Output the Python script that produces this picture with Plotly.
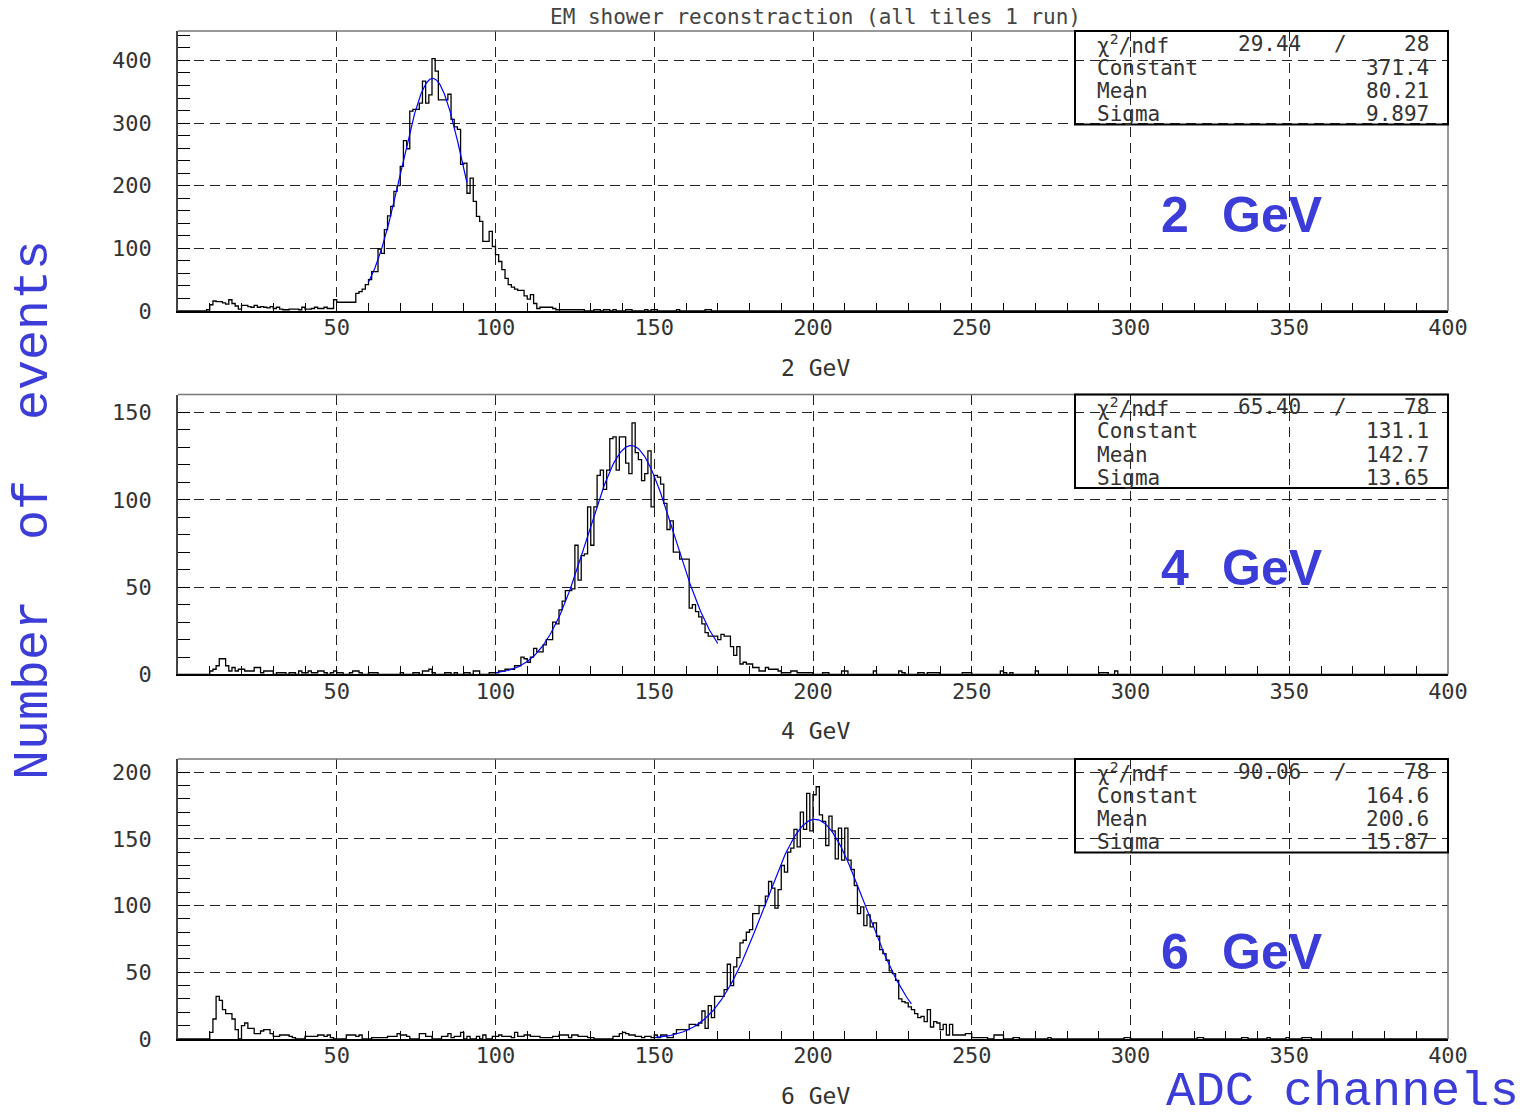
import numpy as np
import plotly.graph_objects as go

# ---------------- data (ADC channel bins of width 1, starting at channel 0) ----------------
counts_2gev = [
    0, 0, 0, 0, 0, 0, 0, 0, 0, 2,
    10, 16, 15, 15, 13, 11, 18, 12, 8, 3,
    9, 9, 7, 6, 9, 6, 7, 6, 5, 7,
    4, 6, 3, 2, 2, 3, 3, 3, 2, 6,
    3, 3, 4, 6, 4, 4, 6, 4, 4, 18,
    14, 14, 14, 14, 14, 14, 28, 31, 35, 42,
    50, 63, 63, 99, 92, 130, 152, 167, 191, 200,
    231, 272, 259, 319, 322, 322, 332, 367, 332, 345,
    403, 383, 337, 337, 337, 346, 306, 294, 290, 234,
    236, 188, 212, 175, 151, 143, 111, 111, 127, 103,
    90, 79, 66, 52, 42, 38, 35, 33, 33, 24,
    19, 26, 12, 4, 6, 6, 6, 6, 4, 2,
    2, 2, 2, 2, 2, 2, 2, 2, 0, 0,
    0, 2, 2, 0, 2, 2, 0, 2, 0, 0,
    0, 2, 2, 0, 0, 0, 0, 2, 0, 2,
    2, 0, 0, 0, 0, 0, 0, 2, 0, 0,
    0, 0, 0, 0, 0, 0, 2, 2, 0, 0,
]

counts_4gev = [
    0, 0, 0, 0, 0, 0, 0, 0, 0, 0,
    2, 3, 5, 9, 9, 5, 2, 4, 2, 3,
    3, 2, 2, 2, 4, 4, 1, 2, 2, 2,
    0, 1, 1, 1, 0, 1, 1, 0, 2, 1,
    1, 2, 1, 1, 2, 2, 1, 0, 1, 2,
    1, 1, 0, 0, 1, 2, 2, 1, 0, 0,
    1, 1, 1, 0, 0, 0, 0, 0, 0, 0,
    1, 0, 0, 0, 1, 1, 0, 2, 2, 3,
    1, 0, 0, 0, 1, 1, 0, 1, 0, 0,
    1, 1, 0, 2, 2, 0, 0, 0, 1, 1,
    1, 2, 2, 3, 3, 3, 5, 5, 10, 9,
    7, 10, 15, 13, 13, 17, 20, 20, 30, 29,
    37, 42, 48, 48, 49, 74, 54, 68, 69, 96,
    74, 96, 114, 117, 106, 117, 135, 136, 117, 136,
    136, 121, 115, 144, 127, 123, 111, 115, 128, 96,
    114, 113, 109, 98, 83, 88, 70, 70, 66, 66,
    66, 38, 40, 36, 33, 29, 24, 22, 22, 22,
    20, 23, 22, 22, 16, 11, 16, 6, 7, 6,
    6, 4, 4, 2, 2, 4, 3, 3, 3, 2,
    1, 1, 1, 2, 2, 1, 1, 1, 1, 1,
    0, 0, 0, 1, 1, 0, 0, 0, 0, 2,
    2, 0, 0, 0, 0, 0, 0, 0, 0, 2,
    0, 0, 0, 0, 0, 0, 0, 2, 1, 0,
    0, 0, 0, 1, 1, 0, 1, 1, 1, 1,
    0, 0, 0, 0, 0, 0, 0, 1, 1, 1,
    0, 0, 0, 0, 0, 0, 0, 0, 0, 2,
    1, 0, 1, 0, 0, 0, 0, 0, 0, 0,
    2, 0, 0, 0, 0, 0, 0, 0, 0, 0,
    0, 0, 0, 0, 0, 0, 0, 0, 0, 0,
    1, 1, 1, 0, 0, 2, 0, 0, 0, 0,
]

counts_6gev = [
    0, 0, 0, 0, 0, 0, 0, 0, 0, 0,
    5, 15, 32, 29, 22, 19, 19, 15, 7, 0,
    10, 12, 8, 8, 4, 4, 6, 7, 7, 4,
    2, 2, 3, 3, 3, 2, 1, 0, 0, 0,
    2, 2, 2, 2, 3, 3, 2, 3, 1, 0,
    0, 0, 0, 3, 3, 3, 2, 3, 0, 0,
    0, 1, 1, 1, 1, 1, 2, 2, 2, 4,
    3, 3, 2, 0, 0, 0, 4, 4, 2, 2,
    0, 0, 0, 2, 2, 4, 1, 2, 2, 5,
    0, 2, 0, 0, 2, 0, 3, 0, 0, 2,
    2, 3, 2, 2, 2, 1, 5, 2, 2, 3,
    3, 2, 2, 2, 1, 1, 1, 1, 2, 2,
    3, 3, 3, 1, 3, 3, 2, 2, 2, 1,
    1, 0, 0, 0, 0, 0, 0, 2, 2, 4,
    5, 4, 3, 3, 2, 2, 1, 2, 2, 1,
    3, 1, 3, 3, 1, 1, 4, 7, 7, 7,
    7, 11, 11, 10, 12, 21, 8, 25, 16, 32,
    32, 32, 37, 56, 40, 54, 61, 72, 74, 80,
    82, 94, 94, 100, 100, 107, 118, 113, 98, 112,
    130, 125, 140, 143, 157, 144, 170, 157, 184, 156,
    183, 189, 168, 163, 145, 167, 156, 135, 158, 134,
    158, 134, 127, 115, 94, 99, 85, 93, 84, 87,
    77, 67, 64, 59, 51, 49, 44, 30, 28, 27,
    24, 22, 19, 16, 17, 13, 22, 9, 13, 12,
    7, 11, 3, 11, 3, 3, 3, 3, 4, 4,
    1, 1, 1, 1, 1, 0, 0, 3, 3, 3,
    0, 0, 0, 1, 1, 0, 0, 0, 0, 0,
    0, 0, 0, 0, 1, 0, 0, 0, 0, 0,
    0, 0, 0, 0, 0, 0, 0, 0, 0, 0,
    0, 0, 0, 0, 0, 0, 0, 0, 1, 1,
    0, 0, 0, 0, 0, 0, 0, 0, 0, 0,
    0, 0, 0, 0, 0, 0, 0, 0, 0, 0,
    0, 1, 1, 0, 0, 0, 0, 0, 0, 0,
    0, 0, 0, 0, 0, 1, 1, 0, 0, 0,
    0, 0, 0, 1, 0, 0, 0, 0, 0, 1,
    0, 0, 0, 0, 1, 1, 1, 0, 0, 0,
]

# Gaussian fit results shown in the stat boxes
fit_constant = [371.4, 131.1, 164.6]
fit_mean = [80.21, 142.7, 200.6]
fit_sigma = [9.897, 13.65, 15.87]
fit_low = [60, 100, 150]
fit_high = [91, 170, 231]
chi2_text = ["29.44", "65.40", "90.06"]
ndf_text = ["28", "78", "78"]
constant_text = ["371.4", "131.1", "164.6"]
mean_text = ["80.21", "142.7", "200.6"]
sigma_text = ["9.897", "13.65", "15.87"]

energy_numbers = ["2", "4", "6"]
energy_unit = "GeV"
axis_titles = ["2 GeV", "4 GeV", "6 GeV"]
x_tick_values = [50, 100, 150, 200, 250, 300, 350, 400]
y_tick_values = [[0, 100, 200, 300, 400], [0, 50, 100, 150], [0, 50, 100, 150, 200]]
y_top = [447, 160.3, 209.8]
y_minor_step = [20, 10, 10]
label_y = [0.3435, 0.382, 0.309]

title_text = "EM shower reconstraction (all tiles 1 run)"
y_title_text = "Number\u00a0\u00a0of\u00a0\u00a0events"
x_title_text = "ADC channels"

# ---------------- layout constants ----------------
N_BINS = 400
domains = [[0.72222, 1.0], [0.36161, 0.63938], [0.0, 0.27778]]
BLUE_TXT = "#3c3cd8"
TICK_FONT = dict(family="DejaVu Sans Mono", size=22, color="#333333")
BOX_FONT = dict(family="DejaVu Sans Mono", size=21, color="#333333")

fig = go.Figure()
all_counts = [counts_2gev, counts_4gev, counts_6gev]
edges = np.arange(0, N_BINS + 1)

annotations = []
shapes = []

for i in range(3):
    ax = "" if i == 0 else str(i + 1)
    xa, ya = "x" + ax, "y" + ax
    c = np.zeros(N_BINS)
    c[: len(all_counts[i])] = all_counts[i]
    xs = np.append(edges[:-1], edges[-1])
    ys = np.append(c, c[-1])
    fig.add_trace(go.Scatter(x=xs, y=ys, mode="lines", xaxis=xa, yaxis=ya,
                             line=dict(color="black", width=1.3, shape="hv"),
                             showlegend=False, hoverinfo="skip"))
    fx = np.linspace(fit_low[i], fit_high[i], 200)
    fy = fit_constant[i] * np.exp(-0.5 * ((fx - fit_mean[i]) / fit_sigma[i]) ** 2)
    fig.add_trace(go.Scatter(x=fx, y=fy, mode="lines", xaxis=xa, yaxis=ya,
                             line=dict(color="#0000ff", width=1.2),
                             showlegend=False, hoverinfo="skip"))

    fig.update_layout(**{
        "xaxis" + ax: dict(
            domain=[0, 1], anchor=ya, range=[0, 400],
            tickmode="array", tickvals=x_tick_values,
            ticks="inside", ticklen=8, tickcolor="black", tickwidth=1,
            tickfont=TICK_FONT, ticklabelstandoff=-4,
            showgrid=True, gridcolor="#222222", griddash="10px,6px", gridwidth=1,
            showline=True, linecolor="black", linewidth=2, zeroline=False,
            minor=dict(tickmode="array", tickvals=list(range(0, 401, 10)),
                       ticks="inside", ticklen=8, tickcolor="black", tickwidth=1, showgrid=False),
        ),
        "yaxis" + ax: dict(
            domain=domains[i], anchor=xa, range=[0, y_top[i]],
            tickmode="array", tickvals=y_tick_values[i],
            ticks="inside", ticklen=12, tickcolor="black", tickwidth=1,
            tickfont=TICK_FONT, ticklabelstandoff=20,
            showgrid=True, gridcolor="#222222", griddash="10px,6px", gridwidth=1,
            showline=True, linecolor="#444444", linewidth=1.5, zeroline=False,
            minor=dict(dtick=y_minor_step[i], tick0=0, ticks="inside", ticklen=12,
                       tickcolor="black", tickwidth=1, showgrid=False),
        ),
    })

    xd, yd = xa + " domain", ya + " domain"
    # top and right frame lines
    shapes.append(dict(type="line", xref=xd, yref=yd, x0=0, x1=1, y0=1, y1=1,
                       line=dict(color="#777777", width=1.5)))
    shapes.append(dict(type="line", xref=xd, yref=yd, x0=1, x1=1, y0=0, y1=1,
                       line=dict(color="#777777", width=1.5)))
    # stat box
    shapes.append(dict(type="rect", xref=xd, yref=yd, x0=0.7063, x1=1.0, y0=0.666, y1=1.0,
                       line=dict(color="black", width=2), fillcolor="rgba(0,0,0,0)"))
    rows_y = [0.9536, 0.868, 0.785, 0.703]
    row_labels = ["\u03c7<sup>2</sup>/ndf", "Constant", "Mean", "Sigma"]
    for ry, lab in zip(rows_y, row_labels):
        annotations.append(dict(xref=xd, yref=yd, x=0.7220, y=ry, text=lab, showarrow=False,
                                xanchor="left", yanchor="middle", font=BOX_FONT))
    annotations.append(dict(xref=xd, yref=yd, x=0.8858, y=rows_y[0], text=chi2_text[i],
                            showarrow=False, xanchor="right", yanchor="middle", font=BOX_FONT))
    annotations.append(dict(xref=xd, yref=yd, x=0.915, y=rows_y[0], text="/",
                            showarrow=False, xanchor="center", yanchor="middle", font=BOX_FONT))
    for ry, val in zip(rows_y, [ndf_text[i], constant_text[i], mean_text[i], sigma_text[i]]):
        annotations.append(dict(xref=xd, yref=yd, x=0.9870, y=ry, text=val, showarrow=False,
                                xanchor="right", yanchor="middle", font=BOX_FONT))
    # big energy label
    big_font = dict(family="Liberation Sans", size=50, color=BLUE_TXT, weight="bold")
    annotations.append(dict(xref=xd, yref=yd, x=(1159 - 178) / 1270, y=label_y[i], text=energy_numbers[i],
                            showarrow=False, xanchor="left", yanchor="middle", font=big_font))
    annotations.append(dict(xref=xd, yref=yd, x=(1220 - 178) / 1270, y=label_y[i], text=energy_unit,
                            showarrow=False, xanchor="left", yanchor="middle", font=big_font))
    # axis title below each panel
    annotations.append(dict(xref=xd, yref=yd, x=0.5016, y=0, yshift=-57, text=axis_titles[i],
                            showarrow=False, xanchor="center", yanchor="middle",
                            font=dict(family="DejaVu Sans Mono", size=23, color="#333333")))

annotations.append(dict(xref="paper", yref="paper", x=0.5016, y=1, yshift=14, text=title_text,
                        showarrow=False, xanchor="center", yanchor="middle",
                        font=dict(family="DejaVu Sans Mono", size=21, color="#444444")))
annotations.append(dict(xref="paper", yref="paper", x=(33 - 178) / 1270, y=0.5248, text=y_title_text,
                        showarrow=False, xanchor="center", yanchor="middle", textangle=-90,
                        font=dict(family="Liberation Mono", size=50, color=BLUE_TXT)))
annotations.append(dict(xref="paper", yref="paper", x=(1521 - 178) / 1270, y=-0.0525, text=x_title_text,
                        showarrow=False, xanchor="right", yanchor="middle",
                        font=dict(family="Liberation Mono", size=49, color=BLUE_TXT)))

fig.update_layout(
    width=1526, height=1113,
    margin=dict(l=178, r=78, t=31, b=74),
    paper_bgcolor="white", plot_bgcolor="white",
    showlegend=False,
    annotations=annotations, shapes=shapes,
)

fig.write_html("out.html")
